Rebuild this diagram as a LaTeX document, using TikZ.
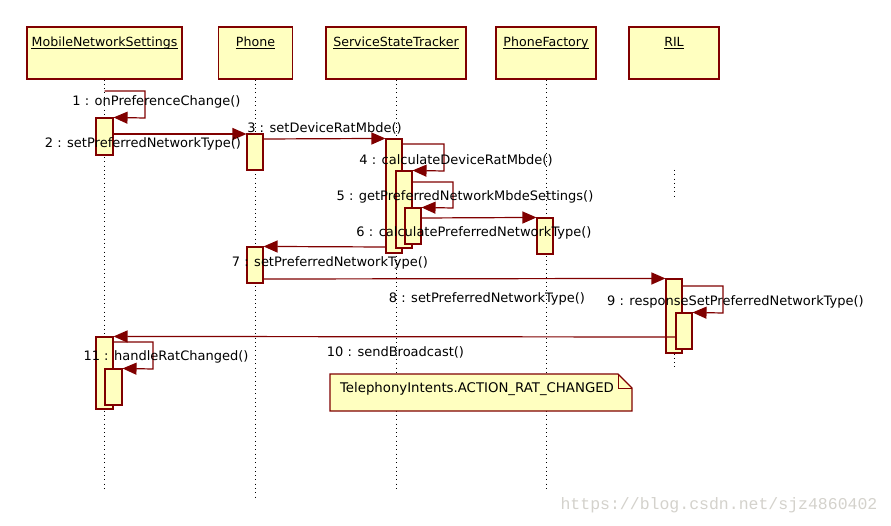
\documentclass[tikz,border=0pt]{standalone}
\usepackage{fontspec}
\setmainfont{DejaVu Sans}
\newfontfamily\wmfont{Liberation Mono}
\usetikzlibrary{arrows.meta}
\definecolor{dred}{RGB}{128,0,0}
\definecolor{byel}{RGB}{255,255,192}
\definecolor{wmgray}{RGB}{212,210,204}
\begin{document}
\begin{tikzpicture}[x=1pt,y=-1pt,
 hdr/.style={draw=dred,fill=byel,line width=1.1pt,minimum height=52pt,inner sep=0pt},
 hdrtxt/.style={font=\fontsize{12.6}{14}\selectfont,inner sep=0pt,anchor=base},
 uline/.style={line width=0.8pt},
 act/.style={draw=dred,fill=byel,line width=1.1pt,inner sep=0pt,minimum width=16pt},
 life/.style={line width=0.9pt,dash pattern=on 0.9pt off 3.4pt},
 msg/.style={draw=dred,line width=1.2pt,-{Triangle[length=14pt,width=12pt]}},
 lbl/.style={font=\fontsize{13}{15}\selectfont,inner sep=0pt},
 notebox/.style={draw=dred,fill=byel,line width=1.1pt},
]
\useasboundingbox[fill=white] (0,0) rectangle (891,526);

% headers
\node[hdr,minimum width=155pt] (h1) at (104.5,53) {};
\node[hdr,minimum width=74pt] (h2) at (255.5,53) {};
\node[hdr,minimum width=140pt] (h3) at (396,53) {};
\node[hdr,minimum width=100pt] (h4) at (546,53) {};
\node[hdr,minimum width=90pt] (h5) at (674,53) {};
\node[hdrtxt] (t1) at (104.5,46.5) {MobileNetworkSettings};
\node[hdrtxt] (t2) at (255.5,46.5) {Phone};
\node[hdrtxt] (t3) at (396,46.5) {ServiceStateTracker};
\node[hdrtxt] (t4) at (546,46.5) {PhoneFactory};
\node[hdrtxt] (t5) at (674,46.5) {RIL};
\foreach \t in {t1,t2,t3,t4,t5}
  \draw[uline] ([yshift=-1.8pt]\t.base west) -- ([yshift=-1.8pt]\t.base east);

% lifelines
\coordinate (e1) at (104.5,490);
\coordinate (e2) at (255.5,497);
\coordinate (e3) at (396,490);
\coordinate (e4) at (546,490);
\coordinate (r5a) at (674,170);
\coordinate (r5b) at (674,196);
\coordinate (e5) at (674,367);
\draw[life] (h1.south) -- (e1);
\draw[life] (h2.south) -- (e2);
\draw[life] (h3.south) -- (e3);
\draw[life] (h4.south) -- (e4);
\draw[life] (r5a) -- (r5b);

% activation bars
\node[act,minimum width=17pt,minimum height=37pt] (a1) at (104.5,136.5) {};
\node[act,minimum height=36pt] (p1) at (255,152) {};
\node[act,minimum height=114pt] (s1) at (394,196) {};
\node[act,minimum height=77pt] (s2) at (404,209.5) {};
\node[act,minimum height=36pt] (s3) at (413,226) {};
\node[act,minimum height=36pt] (f1) at (545,236) {};
\node[act,minimum height=36pt] (p2) at (255,265) {};
\node[act,minimum height=74pt] (r1) at (674,316) {};
\draw[life] (r1.south) -- (e5);
\node[act,minimum height=36pt] (r2) at (684,331) {};
\node[act,minimum width=17pt,minimum height=72pt] (a2) at (104.5,373) {};
\node[act,minimum width=17pt,minimum height=36pt] (a3) at (113.5,387) {};

% messages
\draw[msg] (h1.south |- 0,91) -- (145,91) -- (145,118) -- (a1.north east);
\draw[msg] (a1.east |- 0,134) -- (p1.west |- 0,134);
\draw[msg] (p1.east |- 0,139) -- (s1.north west);
\draw[msg] (s1.east |- 0,144) -- (444,144) -- (444,171) -- (s2.north east);
\draw[msg] (s2.east |- 0,182) -- (453,182) -- (453,208) -- (s3.north east);
\draw[msg] (s3.east |- 0,218) -- (f1.north west);
\draw[msg] (s1.west |- 0,247) -- (p2.north east);
\draw[msg] (p2.east |- 0,279) -- (r1.north west);
\draw[msg] (r1.east |- 0,286) -- (723,286) -- (723,313) -- (r2.north east);
\draw[msg] (r2.west |- 0,337) -- (a2.north east);
\draw[msg] (a2.east |- 0,342) -- (153,342) -- (153,369) -- (a3.north east);

% labels
\node[lbl] (l1) at (156.5,102) {1 : onPreferenceChange()};
\node[lbl] (l2) at (143,144) {2 : setPreferredNetworkType()};
\node[lbl] (l3) at (324.5,128) {3 : setDeviceRatMbde()};
\node[lbl] (l4) at (456,160) {4 : calculateDeviceRatMbde()};
\node[lbl] (l5) at (465,197) {5 : getPreferredNetworkMbdeSettings()};
\node[lbl] (l6) at (474,233) {6 : calculatePreferredNetworkType()};
\node[lbl] (l7) at (330,263) {7 : setPreferredNetworkType()};
\node[lbl] (l8) at (487,299) {8 : setPreferredNetworkType()};
\node[lbl] (l9) at (735.5,302) {9 : responseSetPreferredNetworkType()};
\node[lbl] (l10) at (395.5,352) {10 : sendBroadcast()};
\node[lbl] (l11) at (166,357) {11 : handleRatChanged()};

% note
\draw[notebox] (330,374) -- (618,374) -- (632,388) -- (632,411) -- (330,411) -- cycle;
\draw[draw=dred,line width=0.9pt] (618,374) -- (618,388) -- (632,388);
\node[lbl,font=\fontsize{13.3}{15}\selectfont] (nt) at (477,389) {TelephonyIntents.ACTION\_RAT\_CHANGED};

% watermark
\node[inner sep=0pt,text=wmgray,font=\wmfont\fontsize{16.5}{18}\selectfont] (wm) at (719,505) {https://blog.csdn.net/sjz4860402};
\end{tikzpicture}
\end{document}
